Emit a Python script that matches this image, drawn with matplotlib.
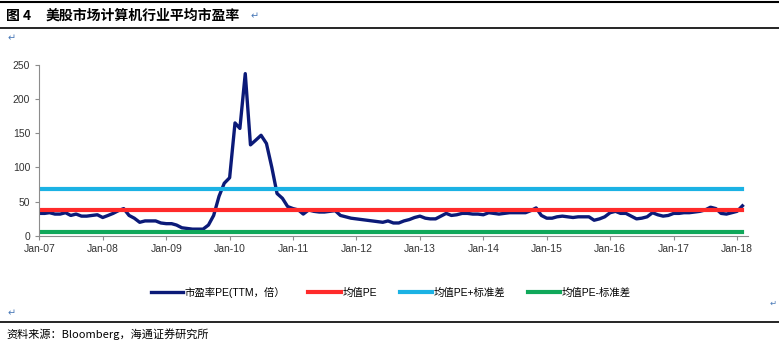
import numpy as np
import pandas as pd
import matplotlib
matplotlib.use("Agg")
import matplotlib.pyplot as plt
import matplotlib.dates as mdates

plt.rcParams['font.family'] = ['Liberation Sans', 'Noto Sans CJK SC', 'DejaVu Sans']

# monthly PE (TTM), Jan-07 .. Feb-18
pe = [33, 33, 34, 32, 32, 34, 30, 32, 29, 29, 30, 31,
      27, 30, 33, 37, 40, 30, 26, 20, 22, 22, 22, 19,
      18, 18, 16, 12, 11, 10, 10, 10, 16, 30, 58, 77,
      85, 165, 157, 237, 133, 140, 147, 135, 100, 62, 55, 43,
      40, 38, 32, 38, 36, 35, 35, 36, 37, 30, 28, 26,
      25, 24, 23, 22, 21, 20, 22, 19, 19, 22, 24, 27,
      29, 26, 25, 25, 29, 33, 30, 31, 33, 33, 32, 32,
      31, 34, 33, 32, 33, 34, 34, 34, 34, 37, 41, 30,
      26, 26, 28, 29, 28, 27, 28, 28, 28, 23, 25, 28,
      34, 36, 33, 33, 29, 25, 26, 28, 34, 31, 29, 30,
      33, 33, 34, 34, 35, 36, 38, 42, 40, 33, 32, 34,
      36, 44]
dates = pd.date_range("2007-01-01", periods=len(pe), freq="MS")
mean_pe = 38
upper_pe = 69
lower_pe = 6.5
labels = ["市盈率PE(TTM，倍）", "均值PE", "均值PE+标准差", "均值PE-标准差"]
colors = ["#0b1a78", "#ff2a2a", "#1bb2e4", "#10a85a"]

fig = plt.figure(figsize=(7.79, 3.46), dpi=100)
cjk = ["Noto Sans CJK SC", "DejaVu Sans"]

# frame lines and title
fig.add_artist(plt.Line2D([0, 1], [1 - 2/346, 1 - 2/346], color="black", lw=1.5))
fig.add_artist(plt.Line2D([0, 1], [1 - 28/346, 1 - 28/346], color="black", lw=1.2))
fig.add_artist(plt.Line2D([0, 1], [1 - 322/346, 1 - 322/346], color="black", lw=1.2))
fig.text(6/779, 1 - 16/346, "图 4", fontsize=10, fontweight="bold", va="center", family=cjk)
fig.text(46/779, 1 - 16/346, "美股市场计算机行业平均市盈率", fontsize=10, fontweight="bold",
         va="center", family=cjk)
fig.text(251/779, 1 - 16/346, "↵", fontsize=7, color="#4a7ab8", va="center", family="DejaVu Sans")
fig.text(8/779, 1 - 38/346, "↵", fontsize=7, color="#4a7ab8", va="center", family="DejaVu Sans")
fig.text(8/779, 1 - 313/346, "↵", fontsize=7, color="#4a7ab8", va="center", family="DejaVu Sans")
fig.text(770/779, 1 - 303/346, "↵", fontsize=6, color="#4a7ab8", va="center", family="DejaVu Sans")
fig.text(6/779, 1 - 334/346, "资料来源：Bloomberg，海通证券研究所", fontsize=8, va="center", family=cjk)

ax = fig.add_axes([39.3/779, 1 - 236/346, (748 - 39.3)/779, (236 - 64.7)/346])
ax.plot(dates, pe, color=colors[0], lw=2.4, label=labels[0], solid_joinstyle="round")
ax.plot(dates, [mean_pe] * len(dates), color=colors[1], lw=3.0, label=labels[1])
ax.plot(dates, [upper_pe] * len(dates), color=colors[2], lw=3.0, label=labels[2])
ax.plot(dates, [lower_pe] * len(dates), color=colors[3], lw=3.0, label=labels[3])

ax.set_ylim(0, 250)
ax.set_yticks([0, 50, 100, 150, 200, 250])
ax.set_xlim(pd.Timestamp("2007-01-01"), pd.Timestamp("2018-03-05"))
ax.xaxis.set_major_locator(mdates.YearLocator())
ax.xaxis.set_major_formatter(mdates.DateFormatter("%b-%y"))
for s in ["top", "right"]:
    ax.spines[s].set_visible(False)
for s in ["left", "bottom"]:
    ax.spines[s].set_color("#8c8c8c")
    ax.spines[s].set_linewidth(0.8)
ax.tick_params(axis="both", labelsize=7.5, colors="#8c8c8c", labelcolor="#333333",
               length=3, width=0.8)
ax.tick_params(axis="x", pad=3)

fig.legend(loc="center", bbox_to_anchor=(391/779, 1 - 292/346), ncol=4, frameon=False,
           handlelength=3.1, columnspacing=2.2, handletextpad=0.15,
           prop={"family": ["Liberation Sans", "Noto Sans CJK SC"], "size": 7.5})

fig.savefig("out.png", dpi=100)
